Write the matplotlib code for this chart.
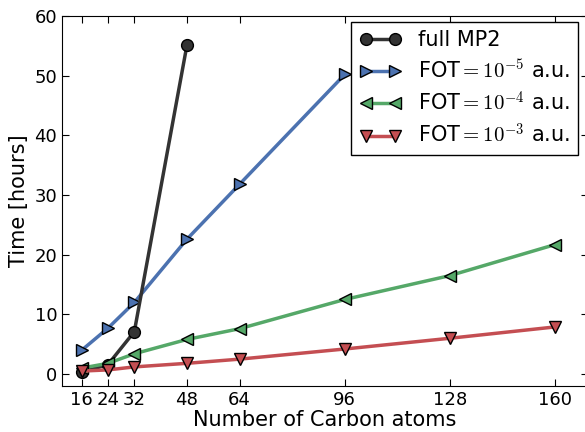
import matplotlib
matplotlib.use("Agg")
import matplotlib.pyplot as plt

plt.rcParams['font.family'] = ['DejaVu Sans']
plt.rcParams['mathtext.fontset'] = 'cm'

carbons_mp2 = [16, 24, 32, 48]
time_mp2 = [0.3, 1.6, 7.1, 55.1]

carbons_fot5 = [16, 24, 32, 48, 64, 96]
time_fot5 = [4.0, 7.7, 12.0, 22.6, 31.8, 50.2]

carbons_fot = [16, 24, 32, 48, 64, 96, 128, 160]
time_fot4 = [1.0, 1.8, 3.4, 5.8, 7.6, 12.5, 16.5, 21.7]
time_fot3 = [0.5, 0.7, 1.2, 1.8, 2.5, 4.2, 6.0, 7.9]

xticks = [16, 24, 32, 48, 64, 96, 128, 160]
yticks = [0, 10, 20, 30, 40, 50, 60]

fig = plt.figure(figsize=(5.85, 4.32), dpi=100)
ax = fig.add_axes([62/585, 46/432, (588-62)/585, (386-16)/432])

lw = 2.5
ms = 8.5
ax.plot(carbons_mp2, time_mp2, '-o', color='#333333', lw=lw, ms=ms,
        mec='black', mew=1, label='full MP2', zorder=3)
ax.plot(carbons_fot5, time_fot5, '->', color='#4C72B0', lw=lw, ms=ms,
        mec='black', mew=1, label=r'FOT$=10^{-5}$ a.u.', zorder=2)
ax.plot(carbons_fot, time_fot4, '-<', color='#55A868', lw=lw, ms=ms,
        mec='black', mew=1, label=r'FOT$=10^{-4}$ a.u.', zorder=4)
ax.plot(carbons_fot, time_fot3, '-v', color='#C44E52', lw=lw, ms=ms,
        mec='black', mew=1, label=r'FOT$=10^{-3}$ a.u.', zorder=5)

ax.set_xlim(10, 170)
ax.set_ylim(-2, 60)
ax.set_xticks(xticks)
ax.set_yticks(yticks)
ax.tick_params(direction='in', top=True, right=True, labelsize=13, length=5)
ax.set_xlabel('Number of Carbon atoms', fontsize=15, labelpad=1)
ax.set_ylabel('Time [hours]', fontsize=15)

leg = ax.legend(loc='upper right', bbox_to_anchor=((578-62)/(588-62), (386-22)/(386-16)),
                borderaxespad=0, fontsize=15, numpoints=2, fancybox=False,
                framealpha=1, edgecolor='black', labelspacing=0.4,
                handlelength=2.0)
leg.get_frame().set_linewidth(1)

fig.savefig('out.png', dpi=100)
